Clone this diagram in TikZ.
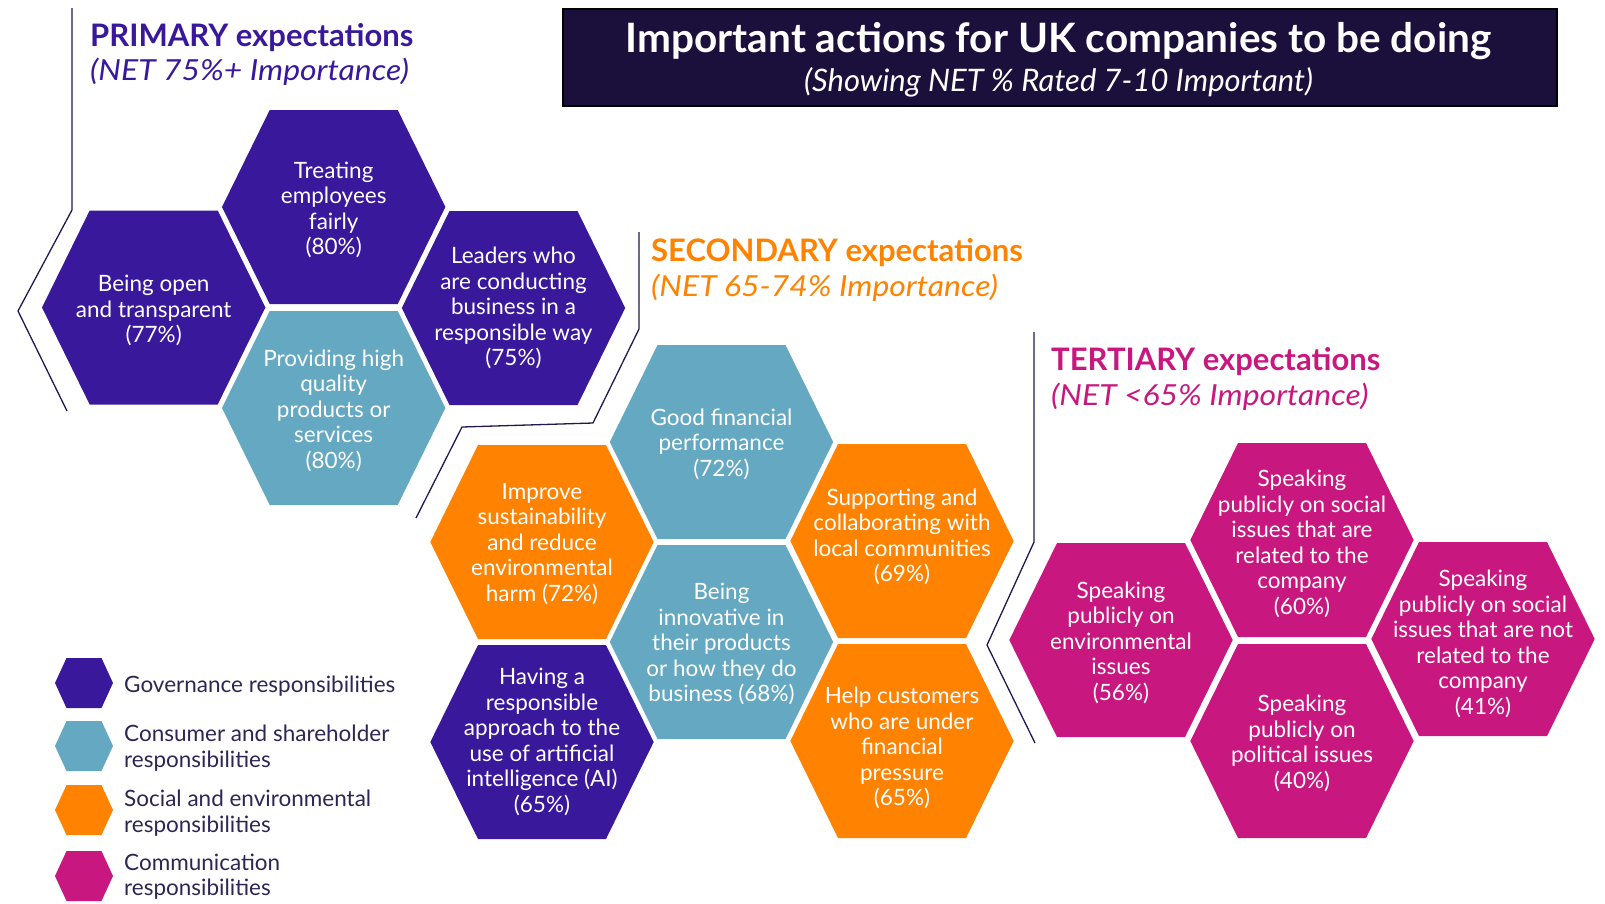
\documentclass[tikz,border=0pt]{standalone}
\usepackage{fontspec}
\setmainfont{Lato}
\definecolor{gov}{RGB}{57,24,156}
\definecolor{cons}{RGB}{100,168,194}
\definecolor{soc}{RGB}{255,130,0}
\definecolor{com}{RGB}{200,24,128}
\definecolor{navy}{RGB}{27,15,60}
\definecolor{linecol}{RGB}{30,25,80}
\definecolor{legcol}{RGB}{45,38,85}
\tikzset{
  hextext/.style={text=white, align=center, inner sep=0pt, font=\fontsize{22.5}{25.5}\selectfont},
  legtext/.style={text=legcol, align=left, anchor=west, inner sep=0pt, font=\fontsize{22.5}{25.5}\selectfont},
  bracket/.style={draw=linecol, line width=1.3pt, line join=miter},
  headbold/.style={anchor=base west, inner sep=0pt, font=\fontsize{31}{34}\selectfont\bfseries},
  headital/.style={anchor=base west, inner sep=0pt, font=\fontsize{29}{32}\selectfont\itshape\addfontfeatures{FakeStretch=1.1}},
}
\newcommand\bighex[6][2.5]{%
  \begin{scope}[shift={(#3,#4)}]
    \fill[#5] (-111.7,0) -- (-64,-97) -- (64,-97) -- (111.7,0) -- (64,97) -- (-64,97) -- cycle;
    \node[hextext] (#2) at (0,#1) {#6};
  \end{scope}}
\newcommand\smallhex[4]{%
  \begin{scope}[shift={(#2,#3)}]
    \fill[#4] (-29,0) -- (-17.5,-25) -- (17.5,-25) -- (29,0) -- (17.5,25) -- (-17.5,25) -- cycle;
    \coordinate (#1) at (0,0);
  \end{scope}}
\begin{document}
\begin{tikzpicture}[x=1pt,y=-1pt]
\useasboundingbox (0,0) rectangle (1605,903);
% title box
\node[fill=navy, draw=black, line width=1.5pt, minimum width=994pt, minimum height=97pt, inner sep=0pt, anchor=north west] (titlebox) at (562,8) {};
\node[text=white, inner sep=0pt, font=\fontsize{40.5}{44}\selectfont\bfseries] (title) at (1058.5,41.5) {Important actions for UK companies to be doing};
\node[text=white, inner sep=0pt, font=\fontsize{31}{34}\selectfont\itshape] (subtitle) at (1058.5,82) {(Showing NET \% Rated 7-10 Important)};
% section headings
\node[headbold, text=gov] (h1) at (90,46) {PRIMARY expectations};
\node[headital, text=gov] (h1b) at (90,80) {(NET 75\%+ Importance)};
\node[headbold, text=soc] (h2) at (651,261) {SECONDARY expectations};
\node[headital, text=soc] (h2b) at (651,296) {(NET 65-74\% Importance)};
\node[headbold, text=com] (h3) at (1051,370) {TERTIARY expectations};
\node[headital, text=com] (h3b) at (1051,405) {(NET <65\% Importance)};
% brackets
\coordinate (p1) at (72,8); \coordinate (p2) at (72,210); \coordinate (p3) at (18,311); \coordinate (p4) at (67,411);
\draw[bracket] (p1) -- (p2) -- (p3) -- (p4);
\coordinate (s1) at (639,232); \coordinate (s2) at (639,329); \coordinate (s3) at (593,423); \coordinate (s4) at (462,427); \coordinate (s5) at (416,518);
\draw[bracket] (s1) -- (s2) -- (s3) -- (s4) -- (s5);
\coordinate (t1) at (1034,332); \coordinate (t2) at (1034,542); \coordinate (t3) at (987,645); \coordinate (t4) at (1035,743);
\draw[bracket] (t1) -- (t2) -- (t3) -- (t4);
% primary hexes
\bighex[3]{open}{153.7}{307.5}{gov}{Being open\\and transparent\\(77\%)}
\bighex[3]{treat}{333.7}{207}{gov}{Treating\\employees\\fairly\\(80\%)}
\bighex{prov}{333.7}{408}{cons}{Providing high\\quality\\products or\\services\\(80\%)}
\bighex[0]{lead}{513.5}{308}{gov}{Leaders who\\are conducting\\business in a\\responsible way\\(75\%)}
% secondary hexes
\bighex[2]{good}{721.5}{442}{cons}{Good financial\\performance\\(72\%)}
\bighex[2]{impr}{542}{542}{soc}{Improve\\sustainability\\and reduce\\environmental\\harm (72\%)}
\bighex[2]{innov}{721.5}{642}{cons}{Being\\innovative in\\their products\\or how they do\\business (68\%)}
\bighex[0]{ai}{542}{742}{gov}{Having a\\responsible\\approach to the\\use of artificial\\intelligence (AI)\\(65\%)}
\bighex[-4]{supp}{902}{541}{soc}{Supporting and\\collaborating with\\local communities\\(69\%)}
\bighex[7]{help}{902}{741}{soc}{Help customers\\who are under\\financial\\pressure\\(65\%)}
% tertiary hexes
\bighex{env}{1121}{640}{com}{Speaking\\publicly on\\environmental\\issues\\(56\%)}
\bighex[4]{socrel}{1302}{540}{com}{Speaking\\publicly on social\\issues that are\\related to the\\company\\(60\%)}
\bighex{pol}{1302}{741}{com}{Speaking\\publicly on\\political issues\\(40\%)}
\bighex[5]{notrel}{1483}{639}{com}{Speaking\\publicly on social\\issues that are not\\related to the\\company\\(41\%)}
% legend
\smallhex{lg1}{84}{683}{gov}
\smallhex{lg2}{84}{746}{cons}
\smallhex{lg3}{84}{810}{soc}
\smallhex{lg4}{84}{876}{com}
\node[legtext] (l1) at (124,686) {Governance responsibilities};
\node[legtext] (l2) at (124,748) {Consumer and shareholder\\responsibilities};
\node[legtext] (l3) at (124,813) {Social and environmental\\responsibilities};
\node[legtext] (l4) at (124,876.5) {Communication\\responsibilities};
\end{tikzpicture}
\end{document}
